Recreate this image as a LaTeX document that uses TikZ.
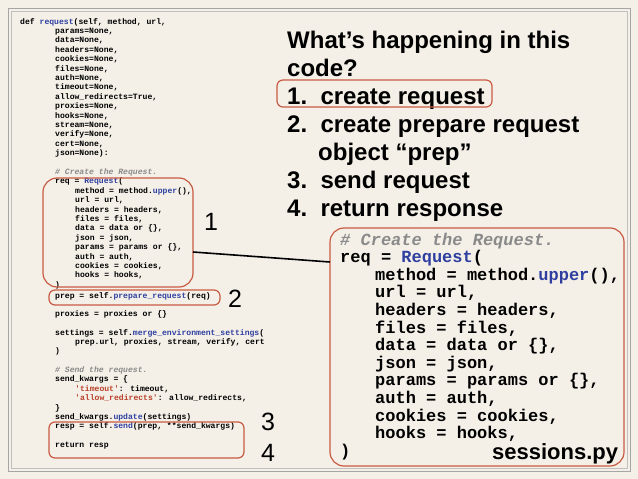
\documentclass[tikz,border=0pt]{standalone}
\usepackage{fontspec}
\setmainfont{Liberation Sans}
\newfontfamily\codefont{Liberation Mono}
\definecolor{bg}{HTML}{F4F0E8}
\definecolor{kw}{HTML}{2E3FA0}
\definecolor{st}{HTML}{B8402A}
\definecolor{cm}{HTML}{8A8A8A}
\definecolor{rb}{HTML}{C85A42}
\newcommand{\K}[1]{\textcolor{kw}{#1}}
\newcommand{\Sx}[1]{\textcolor{st}{#1}}
\begin{document}
\begin{tikzpicture}[x=1pt,y=-1pt,
  sc/.style={anchor=base west,inner sep=0pt,font=\codefont\bfseries\fontsize{8.1}{9}\selectfont},
  bc/.style={anchor=base west,inner sep=0pt,font=\codefont\bfseries\fontsize{17}{18}\selectfont},
  tt/.style={anchor=base west,inner sep=0pt,font=\bfseries\fontsize{24}{26}\selectfont},
  num/.style={anchor=base west,inner sep=0pt,font=\fontsize{25}{27}\selectfont},
  rbox/.style={draw=rb,line width=1.2pt,rounded corners=#1},
  rbox/.default=6pt]
\fill[bg] (0,0) rectangle (638,479);
\useasboundingbox (0,0) rectangle (638,479);
\draw[gray!70,line width=0.8pt] (8,8) rectangle (630,471);
\draw[gray!50,line width=0.5pt] (11,11) rectangle (627,468);
% left code
\node[sc] (l1) at (20,24) {def \K{request}(self, method, url,};
\node[sc] (l2) at (55,33.4) {params=None,};
\node[sc] (l3) at (55,42.8) {data=None,};
\node[sc] (l4) at (55,52.2) {headers=None,};
\node[sc] (l5) at (55,61.6) {cookies=None,};
\node[sc] (l6) at (55,71) {files=None,};
\node[sc] (l7) at (55,80.4) {auth=None,};
\node[sc] (l8) at (55,89.8) {timeout=None,};
\node[sc] (l9) at (55,99.2) {allow\_redirects=True,};
\node[sc] (l10) at (55,108.6) {proxies=None,};
\node[sc] (l11) at (55,118) {hooks=None,};
\node[sc] (l12) at (55,127.4) {stream=None,};
\node[sc] (l13) at (55,136.8) {verify=None,};
\node[sc] (l14) at (55,146.2) {cert=None,};
\node[sc] (l15) at (55,155.6) {json=None):};
\node[sc,text=cm] (l16) at (55,174.4) {\itshape\# Create the Request.};
\node[sc] (l17) at (55,183.8) {req = \K{Request}(};
\node[sc] (l18) at (75,193.2) {method = method.\K{upper}(),};
\node[sc] (l19) at (75,202.6) {url = url,};
\node[sc] (l20) at (75,212) {headers = headers,};
\node[sc] (l21) at (75,221.4) {files = files,};
\node[sc] (l22) at (75,230.8) {data = data or \{\},};
\node[sc] (l23) at (75,240.2) {json = json,};
\node[sc] (l24) at (75,249.6) {params = params or \{\},};
\node[sc] (l25) at (75,259) {auth = auth,};
\node[sc] (l26) at (75,268.4) {cookies = cookies,};
\node[sc] (l27) at (75,277.8) {hooks = hooks,};
\node[sc] (l28) at (55,287.2) {)};
\node[sc] (l29) at (55,298) {prep = self.\K{prepare\_request}(req)};
\node[sc] (l30) at (55,316.5) {proxies = proxies or \{\}};
\node[sc] (l31) at (55,335) {settings = self.\K{merge\_environment\_settings}(};
\node[sc] (l32) at (75,344.4) {prep.url, proxies, stream, verify, cert};
\node[sc] (l33) at (55,353.8) {)};
\node[sc,text=cm] (l34) at (55,372.5) {\itshape\# Send the request.};
\node[sc] (l35) at (55,381.9) {send\_kwargs = \{};
\node[sc] (l36) at (75,391.3) {\Sx{'timeout'}: timeout,};
\node[sc] (l37) at (75,400.7) {\Sx{'allow\_redirects'}: allow\_redirects,};
\node[sc] (l38) at (55,410.1) {\}};
\node[sc] (l39) at (55,419.5) {send\_kwargs.\K{update}(settings)};
\node[sc] (l40) at (55,428.9) {resp = self.\K{send}(prep, **send\_kwargs)};
\node[sc] (l41) at (55,447.3) {return resp};
% title
\node[tt] (t1) at (287,48) {What’s happening in this};
\node[tt] (t2) at (287,76) {code?};
\node[tt] (t3) at (287,104) {1.\ \ create request};
\node[tt] (t4) at (287,132) {2.\ \ create prepare request};
\node[tt] (t5) at (318,160) {object “prep”};
\node[tt] (t6) at (287,188) {3.\ \ send request};
\node[tt] (t7) at (287,216) {4.\ \ return response};
% big code
\node[bc,text=cm] (b1) at (340,245) {\itshape\# Create the Request.};
\node[bc] (b2) at (340,262.6) {req = \K{Request}(};
\node[bc] (b3) at (375,280.2) {method = method.\K{upper}(),};
\node[bc] (b4) at (375,297.8) {url = url,};
\node[bc] (b5) at (375,315.4) {headers = headers,};
\node[bc] (b6) at (375,333) {files = files,};
\node[bc] (b7) at (375,350.6) {data = data or \{\},};
\node[bc] (b8) at (375,368.2) {json = json,};
\node[bc] (b9) at (375,385.8) {params = params or \{\},};
\node[bc] (b10) at (375,403.4) {auth = auth,};
\node[bc] (b11) at (375,421) {cookies = cookies,};
\node[bc] (b12) at (375,438.6) {hooks = hooks,};
\node[bc] (b13) at (340,456.2) {)};
\node[tt,font=\bfseries\fontsize{22}{24}\selectfont] (sp) at (492,459) {sessions.py};
% numbers
\node[num] (n1) at (204,230) {1};
\node[num] (n2) at (228,307) {2};
\node[num] (n3) at (261,430) {3};
\node[num] (n4) at (261,461) {4};
% red boxes
\draw[rbox=14pt] (43,178) rectangle (193,287);
\draw[rbox] (49,290) rectangle (220,305);
\draw[rbox] (49,422) rectangle (244,458);
\draw[rbox] (277,80) rectangle (492,107);
\draw[rbox=14pt] (330,228) rectangle (624,466);
\coordinate (c1) at (193,252);
\coordinate (c2) at (330,262);
\draw[line width=1.6pt] (c1) -- (c2);
\end{tikzpicture}
\end{document}
